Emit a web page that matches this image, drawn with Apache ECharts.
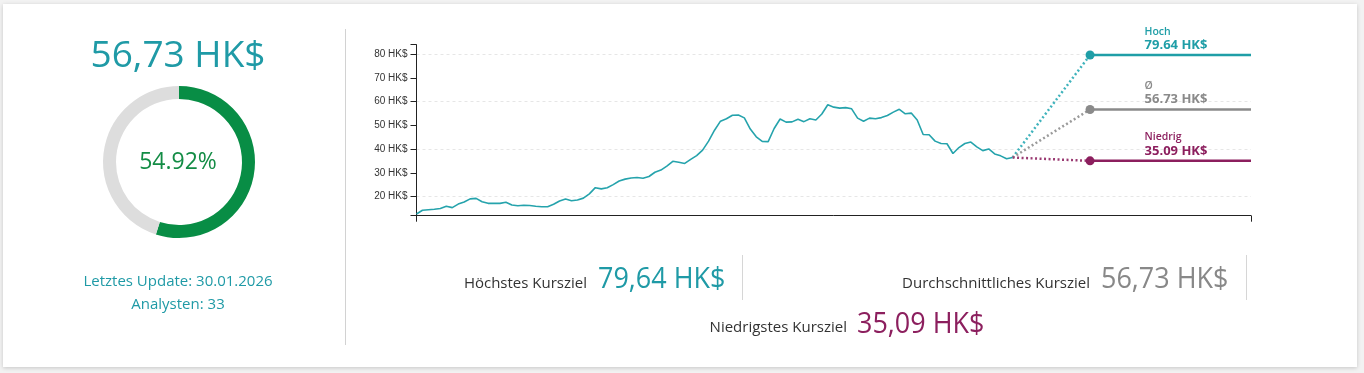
<!DOCTYPE html>
<html>
<head>
<meta charset="utf-8">
<script src="https://cdn.jsdelivr.net/npm/echarts@6/dist/echarts.min.js"></script>
<style>
html,body{margin:0;padding:0;background:#f2f2f2;width:1364px;height:373px;overflow:hidden;}
#card{position:absolute;left:3px;top:4px;width:1354px;height:363px;background:#fff;box-shadow:0 1px 4px rgba(0,0,0,0.18);}
#main{position:absolute;left:0;top:0;width:1364px;height:373px;}
</style>
</head>
<body>
<div id="card"></div>
<div id="main"></div>
<script>
// ---- data ----
const historyValues = [
  12.7, 14.3, 14.5, 14.7, 15.0, 16.0, 15.4, 16.9, 17.8, 19.1,
  19.3, 17.9, 17.2, 17.2, 17.2, 17.7, 16.5, 16.2, 16.4, 16.3,
  16.0, 15.8, 15.8, 16.8, 18.2, 19.0, 18.3, 18.6, 19.4, 21.2,
  23.8, 23.3, 23.8, 25.1, 26.6, 27.4, 27.9, 28.1, 27.8, 28.5,
  30.3, 31.2, 32.9, 34.9, 34.5, 34.0, 35.7, 37.3, 39.6, 43.4,
  48.0, 51.8, 52.8, 54.3, 54.4, 53.2, 48.5, 45.2, 43.3, 43.2,
  48.7, 52.7, 51.4, 51.5, 52.6, 51.6, 52.8, 52.3, 54.8, 58.7,
  57.7, 57.3, 57.5, 57.0, 53.1, 51.8, 53.1, 52.8, 53.3, 54.2,
  55.6, 56.8, 54.9, 55.2, 52.3, 46.2, 46.1, 43.4, 42.4, 42.3,
  38.2, 40.7, 42.4, 43.0, 41.0, 39.4, 40.1, 38.0, 37.2, 36.0,
  36.5
];
const targetNames = ['Hoch', 'Ø', 'Niedrig'];
const targetValues = [79.64, 56.73, 35.09];
const targetLabels = ['79.64 HK$', '56.73 HK$', '35.09 HK$'];
const yTickValues = [20, 30, 40, 50, 60, 70, 80];
const gridLineValues = [20, 40, 60, 80];
const donutPercent = 54.92;
const headline = '56,73 HK$';
const updateText = 'Letztes Update: 30.01.2026';
const analystsText = 'Analysten: 33';
const statLabels = ['Höchstes Kursziel', 'Durchschnittliches Kursziel', 'Niedrigstes Kursziel'];
const statValues = ['79,64 HK$', '56,73 HK$', '35,09 HK$'];

// ---- layout / style constants ----
const targetIndex = 113;
const endIndex = 140;
const lastIndex = historyValues.length - 1;
const lineColors = ['#1f9ea7', '#8a8a8a', '#8c1f5e'];
const dotColors = ['#3fb3bc', '#9a9a9a', '#9a3a72'];
const teal = '#1f9aa6';
const FONT = '"Open Sans", "Noto Sans", sans-serif';

const series = [];
// grid lines
series.push({
  type: 'line', data: [], z: 0, zlevel: 0, silent: true,
  markLine: {
    silent: true, symbol: 'none', label: {show: false}, z: 0,
    lineStyle: {type: [3, 3], color: '#e6e6e6', width: 1},
    emphasis: {disabled: true},
    data: gridLineValues.map(v => ({yAxis: v}))
  }
});
// history
series.push({
  type: 'line', z: 3,
  data: historyValues.map((v, i) => [i, v]),
  showSymbol: false, symbol: 'none',
  lineStyle: {color: '#25a3ac', width: 1.6},
  silent: true
});
const last = historyValues[lastIndex];
targetValues.forEach((t, k) => {
  series.push({
    type: 'line', z: 2, silent: true, symbol: 'none',
    data: [[lastIndex, last], [targetIndex, t]],
    lineStyle: {color: dotColors[k], width: 2.5, type: [2, 2.5], cap: 'butt'}
  });
  series.push({
    type: 'line', z: 5, silent: true,
    showAllSymbol: true,
    data: [
      {value: [targetIndex, t], symbol: 'circle', symbolSize: 9,
        itemStyle: {color: lineColors[k], borderColor: lineColors[k], borderWidth: 0, opacity: 1},
        label: {
          show: true, position: [59, -25],
          formatter: '{a|' + targetNames[k] + '}\n{b|' + targetLabels[k] + '}',
          rich: {
            a: {fontSize: 10.5, fontWeight: 600, color: lineColors[k], fontFamily: FONT, lineHeight: 12},
            b: {fontSize: 13, fontWeight: 700, color: lineColors[k], fontFamily: FONT, lineHeight: 15}
          }
        }},
      {value: [endIndex, t], symbol: 'none'}
    ],
    itemStyle: {color: lineColors[k]},
    lineStyle: {color: lineColors[k], width: 2.5}
  });
});
// donut
series.push({
  type: 'pie', center: [179, 162], radius: [63, 76], startAngle: 90, clockwise: true,
  silent: true, label: {show: false}, labelLine: {show: false},
  data: [
    {value: donutPercent, itemStyle: {color: '#088d45'}},
    {value: 100 - donutPercent, itemStyle: {color: '#dddddd'}}
  ]
});

function txt(x, y, text, fill, size, align, sx) {
  return {type: 'text', x: x, y: y, scaleX: sx || 1, silent: true,
    style: {text: text, fill: fill, fontSize: size, fontFamily: FONT, align: align, verticalAlign: 'middle'}};
}
const graphic = [
  txt(178, 56, headline, teal, 37, 'center'),
  txt(178, 162, donutPercent.toFixed(2) + '%', '#138c45', 23, 'center'),
  txt(178, 282, updateText, teal, 15, 'center'),
  txt(178, 305, analystsText, teal, 15, 'center'),
  {type: 'line', shape: {x1: 345.5, y1: 29, x2: 345.5, y2: 345}, style: {stroke: '#d2d2d2', lineWidth: 1}},
  {type: 'line', shape: {x1: 742.5, y1: 255, x2: 742.5, y2: 300}, style: {stroke: '#d6d6d6', lineWidth: 1}},
  {type: 'line', shape: {x1: 1246.5, y1: 255, x2: 1246.5, y2: 300}, style: {stroke: '#d6d6d6', lineWidth: 1}},
  txt(587, 284, statLabels[0], '#333', 15, 'right'),
  txt(598, 280, statValues[0], teal, 29, 'left', 0.93),
  txt(1090, 284, statLabels[1], '#333', 15, 'right'),
  txt(1101, 280, statValues[1], '#888888', 29, 'left', 0.93),
  txt(847, 328, statLabels[2], '#333', 15, 'right'),
  txt(857, 325, statValues[2], '#8c1f5e', 29, 'left', 0.93)
];

const chart = echarts.init(document.getElementById('main'), null, {renderer: 'canvas'});
chart.setOption({
  animation: false,
  backgroundColor: 'transparent',
  grid: {left: 416.5, right: 113, top: 44.7, bottom: 157.3, containLabel: false},
  xAxis: {
    type: 'value', min: 0, max: endIndex,
    axisLine: {show: true, lineStyle: {color: '#222', width: 1}},
    axisTick: {show: true, length: 6, lineStyle: {color: '#222'}, customValues: [0, endIndex]},
    axisLabel: {show: false},
    splitLine: {show: false}
  },
  yAxis: {
    type: 'value', min: 12, max: 84,
    axisLine: {show: true, lineStyle: {color: '#222', width: 1}},
    axisTick: {show: true, length: 6, lineStyle: {color: '#222'}, customValues: [12].concat(yTickValues, [84])},
    axisLabel: {show: true, customValues: yTickValues, formatter: '{value} HK$', fontSize: 10, color: '#333', fontFamily: 'Arial, "Liberation Sans", sans-serif', margin: 9},
    splitLine: {show: false}
  },
  series: series,
  graphic: graphic
});
</script>
</body>
</html>
